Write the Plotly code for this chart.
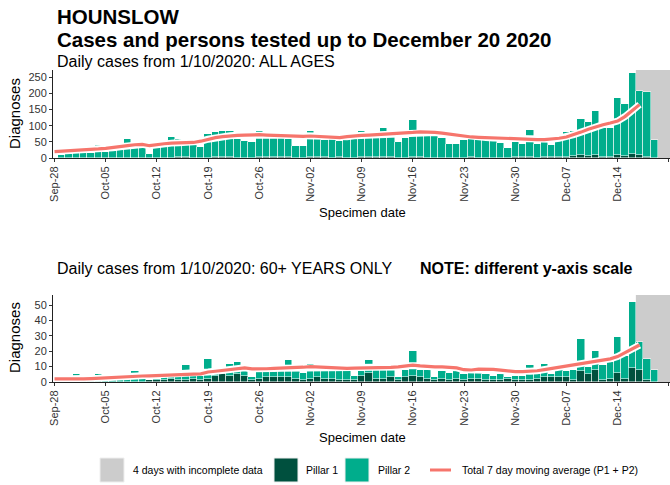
import plotly.graph_objects as go
import pandas as pd

W, H = 670, 485

# ---- data ----
bar_dates = pd.date_range("2020-09-29", "2020-12-19", freq="D")
ma_dates = pd.date_range("2020-09-28", "2020-12-17", freq="D")

# all ages
all_p1 = [0, 0, 1, 0, 0, 1, 0, 0, 1, 0,
          1, 0, 0, 1, 0, 1, 3, 3, 1, 0,
          1, 2, 3, 3, 1, 1, 0, 3, 3, 2,
          3, 3, 1, 1, 2, 3, 2, 1, 2, 1,
          1, 2, 4, 2, 3, 3, 1, 1, 3, 2,
          1, 1, 1, 1, 1, 1, 2, 1, 1, 1,
          1, 1, 3, 3, 2, 1, 3, 3, 2, 4,
          5, 8, 7, 10, 3, 3, 10, 5, 11, 10,
          2, 1]
all_p2 = [10, 12, 32, 33, 14, 39, 20, 22, 24, 58,
          32, 35, 12, 31, 33, 64, 57, 57, 39, 35,
          74, 78, 79, 81, 57, 51, 50, 79, 58, 79,
          78, 56, 37, 35, 82, 56, 55, 77, 52, 60,
          60, 81, 57, 61, 91, 61, 49, 60, 113, 67,
          70, 68, 60, 42, 42, 56, 75, 54, 54, 51,
          45, 30, 45, 41, 86, 42, 61, 38, 50, 75,
          77, 114, 104, 134, 90, 90, 176, 163, 252, 196,
          201, 54]
all_ma = [20, 21, 22, 23, 24, 26, 28, 30, 32, 35,
          38, 41, 42, 38, 42, 44, 46, 47, 48, 48,
          52, 58, 63, 66, 69, 70, 71, 72, 72, 71,
          70, 70, 69, 68, 67, 68, 67, 66, 64, 63,
          66, 69, 70, 71, 72, 73, 74, 76, 78, 79,
          81, 81, 79, 77, 74, 70, 67, 65, 64, 63,
          62, 61, 60, 58, 57, 57, 57, 57, 58, 61,
          65, 72, 80, 89, 97, 103, 108, 114, 128, 146,
          165]

# 60+ only
old_p1 = [0, 0, 0, 0, 0, 0, 0, 0, 0, 0,
          0, 0, 1, 1, 1, 2, 1, 1, 2, 1,
          2, 4, 5, 4, 5, 4, 1, 2, 3, 3,
          3, 3, 2, 1, 2, 3, 2, 2, 1, 1,
          1, 4, 6, 2, 2, 3, 1, 3, 4, 3,
          2, 1, 2, 1, 2, 1, 2, 2, 1, 1,
          1, 2, 1, 1, 1, 2, 3, 3, 3, 3,
          1, 7, 5, 8, 1, 2, 6, 2, 9, 8,
          1, 0]
old_p2 = [1, 1, 5, 1, 1, 5, 1, 2, 2, 2,
          7, 3, 0, 1, 2, 5, 2, 10, 2, 3,
          13, 3, 2, 8, 8, 3, 2, 5, 4, 4,
          8, 11, 5, 5, 10, 5, 6, 6, 6, 6,
          3, 3, 8, 6, 6, 5, 2, 5, 16, 5,
          6, 2, 5, 5, 5, 4, 6, 8, 4, 3,
          4, 1, 3, 3, 10, 3, 9, 2, 8, 4,
          7, 21, 5, 12, 10, 11, 23, 15, 43, 18,
          14, 8]
old_ma = [2, 1.9, 1.9, 2, 2, 2.2, 2.5, 2.8, 3, 3.2,
          3.5, 3.7, 3.9, 4, 4.1, 4.3, 4.5, 4.8, 5, 5.1,
          5.3, 6.5, 7, 7.6, 8.2, 8.8, 9.2, 8.5, 8.3, 8.6,
          8.8, 8.9, 8.9, 9.2, 9.6, 10, 9.8, 9.4, 9, 8.9,
          8.9, 9, 9, 9.1, 9.2, 9.3, 9.5, 9.8, 10.5, 11,
          10.5, 10, 9.8, 9.8, 9.7, 9.2, 8, 7.8, 8.3, 8.4,
          8.2, 7.7, 7.2, 6.8, 6.8, 7, 7.3, 8, 8.8, 9.5,
          10.2, 11, 11.8, 12.5, 13.2, 14, 15, 16.5, 19, 21.5,
          24]

P1_COL = "#00503e"
P2_COL = "#00ad8c"
MA_COL = "#f6756c"
GREY = "#cccccc"
FONT = "Liberation Sans"


def px(x):
    return x / W


def py(y):
    return 1 - y / H


fig = go.Figure()

panels = [("", all_p1, all_p2, all_ma), ("2", old_p1, old_p2, old_ma)]
for ax, p1, p2, ma in panels:
    xa, ya = "x" + ax, "y" + ax
    fig.add_trace(go.Bar(x=bar_dates, y=p1, xaxis=xa, yaxis=ya, marker_color=P1_COL,
                         marker_line=dict(color="white", width=0.5), showlegend=False))
    fig.add_trace(go.Bar(x=bar_dates, y=p2, xaxis=xa, yaxis=ya, marker_color=P2_COL,
                         marker_line=dict(color="white", width=0.5), showlegend=False))
    fig.add_trace(go.Scatter(x=ma_dates, y=ma, xaxis=xa, yaxis=ya, mode="lines",
                             line=dict(color="white", width=7), showlegend=False,
                             hoverinfo="skip"))
    fig.add_trace(go.Scatter(x=ma_dates, y=ma, xaxis=xa, yaxis=ya, mode="lines",
                             line=dict(color=MA_COL, width=3.2), showlegend=False))
    fig.add_shape(type="rect", xref=xa, yref=ya + " domain", x0="2020-12-16 12:00",
                  x1="2020-12-22", y0=0, y1=1, fillcolor=GREY, line_width=0, layer="below")

xrange = ["2020-09-27 19:00", "2020-12-21 04:00"]
xcommon = dict(type="date", range=xrange, tick0="2020-09-28", dtick=7 * 86400000,
               tickformat="%b-%d", tickangle=-90, ticks="outside", ticklen=3,
               tickcolor="#333", showline=True, linecolor="#222", linewidth=1,
               showgrid=False, zeroline=False, automargin=False,
               tickfont=dict(size=11, color="#333"))
ycommon = dict(ticks="outside", ticklen=3, tickcolor="#333", showline=True,
               linecolor="#222", linewidth=1, showgrid=False, zeroline=False,
               automargin=False, tickfont=dict(size=11, color="#333"))

fig.update_layout(
    width=W, height=H, margin=dict(l=0, r=0, t=0, b=0, autoexpand=False),
    plot_bgcolor="white", paper_bgcolor="white", barmode="stack", bargap=0,
    font=dict(family=FONT, color="black"),
    xaxis=dict(domain=[px(53), 1], anchor="y", **xcommon),
    yaxis=dict(domain=[py(158), py(70)], anchor="x", range=[0, 272], dtick=50, **ycommon),
    xaxis2=dict(domain=[px(53), 1], anchor="y2", **xcommon),
    yaxis2=dict(domain=[py(382), py(295)], anchor="x2", range=[0, 56.5], dtick=10, **ycommon),
)

ann = [
    dict(x=px(55), y=py(17), text="<b>HOUNSLOW</b>", size=20.5),
    dict(x=px(55), y=py(39), text="<b>Cases and persons tested up to December 20 2020</b>", size=20.5),
    dict(x=px(55), y=py(62), text="Daily cases from 1/10/2020: ALL AGES", size=16),
    dict(x=px(55), y=py(268), text="Daily cases from 1/10/2020: 60+ YEARS ONLY", size=16),
    dict(x=px(418), y=py(268), text="<b>NOTE: different y-axis scale</b>", size=16),
    dict(x=px(131), y=py(470), text="4 days with incomplete data", size=10.5),
    dict(x=px(304), y=py(470), text="Pillar 1", size=10.5),
    dict(x=px(376), y=py(470), text="Pillar 2", size=10.5),
    dict(x=px(460), y=py(470), text="Total 7 day moving average (P1 + P2)", size=10.5),
]
for a in ann:
    fig.add_annotation(x=a["x"], y=a["y"], xref="paper", yref="paper", text=a["text"],
                       showarrow=False, xanchor="left", yanchor="middle",
                       font=dict(size=a["size"], color="black", family=FONT))

for ymid in (114, 338):
    fig.add_annotation(x=px(14), y=py(ymid), xref="paper", yref="paper", text="Diagnoses",
                       textangle=-90, showarrow=False, xanchor="center", yanchor="middle",
                       font=dict(size=15, color="black"))
for ymid in (212, 437):
    fig.add_annotation(x=px(362), y=py(ymid), xref="paper", yref="paper", text="Specimen date",
                       showarrow=False, xanchor="center", yanchor="middle",
                       font=dict(size=13, color="black"))

# legend keys
for x0, col in ((100, GREY), (274, P1_COL), (345, P2_COL)):
    fig.add_shape(type="rect", xref="paper", yref="paper", x0=px(x0), x1=px(x0 + 24),
                  y0=py(482), y1=py(458), fillcolor=col, line=dict(color="#eeeeee", width=1))
fig.add_shape(type="line", xref="paper", yref="paper", x0=px(430), x1=px(451),
              y0=py(470), y1=py(470), line=dict(color=MA_COL, width=3))

fig.write_html("out.html", config={"displayModeBar": False},
               post_script="document.body.style.margin='0px';")
